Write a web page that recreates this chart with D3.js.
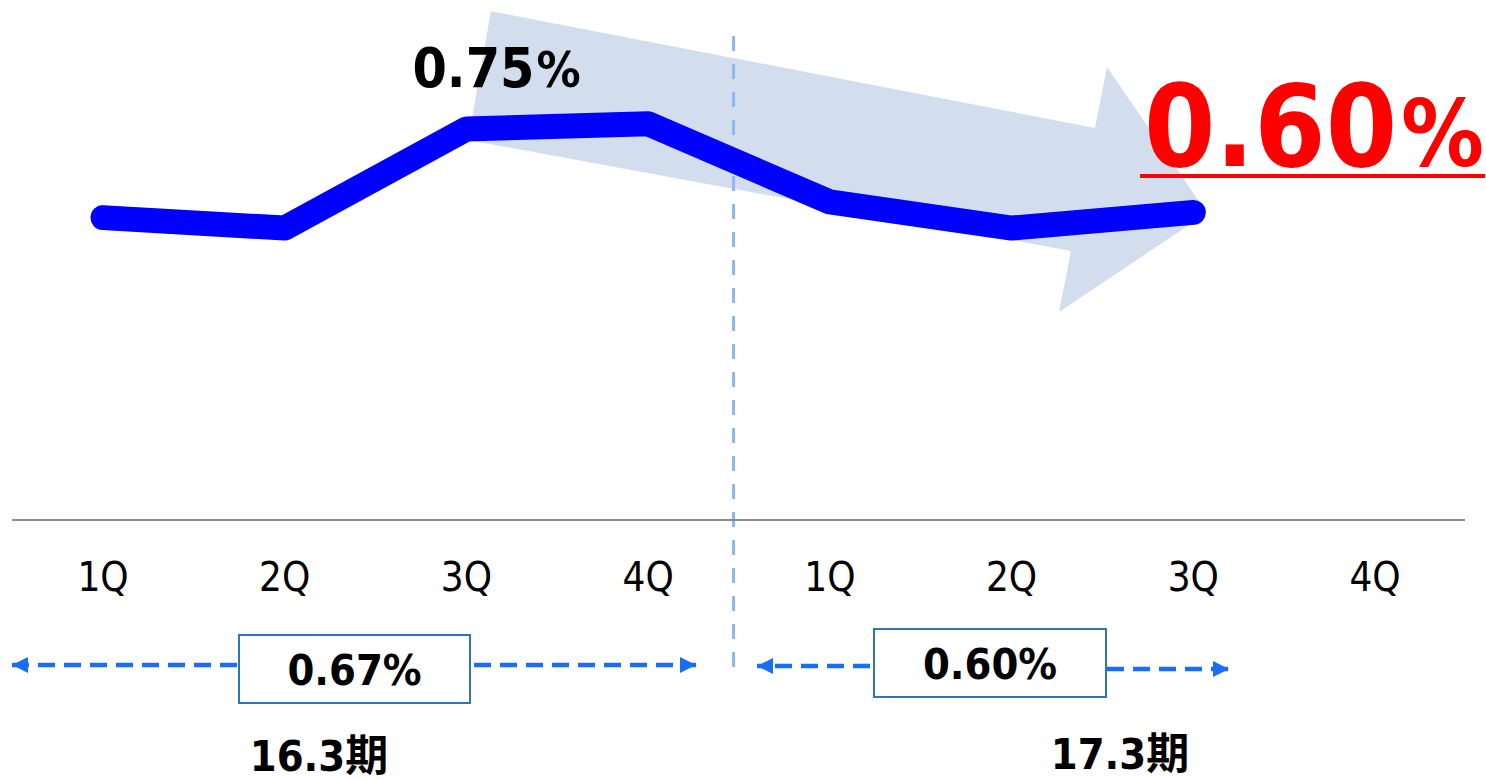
<!DOCTYPE html>
<html>
<head>
<meta charset="utf-8">
<script src="https://cdn.jsdelivr.net/npm/d3@7"></script>
<style>
  body { margin: 0; background: #fff; }
  svg { display: block; }
</style>
</head>
<body>
<div id="chart"></div>
<script>
// quarterly values
var quarters = ['1Q', '2Q', '3Q', '4Q', '1Q', '2Q', '3Q', '4Q'],
    rates = [0.58, 0.56, 0.75, 0.76, 0.61, 0.56, 0.59],
    periods = ['16.3期', '17.3期'],
    periodAvg = ['0.67%', '0.60%'],
    peakLabel = '0.75',
    latestLabel = '0.60'

// trend arrow outline, in (quarter index, rate) units
var trendArrow = [[2.135, 0.976], [5.459, 0.752], [5.525, 0.869], [6.076, 0.589],
                  [5.261, 0.399], [5.327, 0.516], [2.009, 0.729]]

var width = 1486, height = 780,
    font = '"DejaVu Sans Condensed", "DejaVu Sans", "Noto Sans CJK JP", sans-serif',
    colors = {
        line: '#0000ff',
        arrow: '#d2deee',
        axis: '#8c8c8c',
        divider: '#8fb8f2',
        span: '#1a6ef5',
        box: '#2e75b6',
        red: '#ff0000'
    }

var x = d3.scaleLinear().domain([0, quarters.length - 1]).range([103, 1375]),
    y = d3.scaleLinear().domain([0, 0.75]).range([520, 129])

var vis = d3.select('#chart').append('svg')
    .attr('width', width)
    .attr('height', height)
    .attr('viewBox', '0 0 ' + width + ' ' + height)

var defs = vis.append('defs')
defs.append('marker')
    .attr('id', 'tip')
    .attr('viewBox', '0 0 10 10')
    .attr('refX', 10).attr('refY', 5)
    .attr('markerUnits', 'userSpaceOnUse')
    .attr('markerWidth', 18).attr('markerHeight', 16)
    .attr('orient', 'auto')
  .append('path')
    .attr('d', 'M0,0L10,5L0,10Z')
    .attr('fill', colors.span)

// big trend arrow behind the line
vis.append('path')
    .datum(trendArrow)
    .attr('d', d3.line().x(function(d) { return x(d[0]) }).y(function(d) { return y(d[1]) }).curve(d3.curveLinearClosed))
    .attr('fill', colors.arrow)

// divider between fiscal years
var divX = x(3.47)
vis.append('line')
    .attr('x1', divX).attr('x2', divX)
    .attr('y1', 36).attr('y2', 668)
    .attr('stroke', colors.divider)
    .attr('stroke-width', 3)
    .attr('stroke-dasharray', '15 13')

// baseline
vis.append('line')
    .attr('x1', 12).attr('x2', 1465)
    .attr('y1', y(0)).attr('y2', y(0))
    .attr('stroke', colors.axis)
    .attr('stroke-width', 2)

// rate line
vis.append('path')
    .datum(rates)
    .attr('d', d3.line().x(function(d, i) { return x(i) }).y(function(d) { return y(d) }))
    .attr('fill', 'none')
    .attr('stroke', colors.line)
    .attr('stroke-width', 25)
    .attr('stroke-linejoin', 'round')
    .attr('stroke-linecap', 'round')

// quarter labels
vis.selectAll('.q')
    .data(quarters)
    .enter().append('text')
    .attr('class', 'q')
    .attr('x', function(d, i) { return x(i) })
    .attr('y', 591)
    .attr('text-anchor', 'middle')
    .attr('font-family', font)
    .attr('font-size', 40)
    .attr('fill', '#000')
    .text(function(d) { return d })

// peak label
var peak = vis.append('text')
    .attr('x', x(2) - 54)
    .attr('y', 87)
    .attr('font-family', font)
    .attr('font-weight', 'bold')
    .attr('fill', '#000')
peak.append('tspan').attr('font-size', 55).text(peakLabel)
peak.append('tspan').attr('font-size', 49).attr('dx', 2).text('%')

// latest big red label
var latest = vis.append('text')
    .attr('x', 1484)
    .attr('y', 166)
    .attr('text-anchor', 'end')
    .attr('font-family', font)
    .attr('font-weight', 'bold')
    .attr('fill', colors.red)
latest.append('tspan').attr('font-size', 114).text(latestLabel)
latest.append('tspan').attr('font-size', 92).attr('dx', 4).text('%')

vis.append('line')
    .attr('x1', 1140).attr('x2', 1485)
    .attr('y1', 176).attr('y2', 176)
    .attr('stroke', colors.red)
    .attr('stroke-width', 4)

// period spans with averages
var spans = [
    {box: [239, 635, 231, 68], left: [237, 12, 665], right: [474, 696, 665], label: [319, 771]},
    {box: [874, 629, 232, 68], left: [870, 757, 666], right: [1107, 1229, 669], label: [1120, 769]}
]

spans.forEach(function(s, i) {
    [s.left, s.right].forEach(function(a) {
        vis.append('line')
            .attr('x1', a[0]).attr('x2', a[1])
            .attr('y1', a[2]).attr('y2', a[2])
            .attr('stroke', colors.span)
            .attr('stroke-width', 4.5)
            .attr('stroke-dasharray', '17 9')
            .attr('marker-end', 'url(#tip)')
    })
    vis.append('rect')
        .attr('x', s.box[0]).attr('y', s.box[1])
        .attr('width', s.box[2]).attr('height', s.box[3])
        .attr('fill', '#fff')
        .attr('stroke', colors.box)
        .attr('stroke-width', 2)
    vis.append('text')
        .attr('x', s.box[0] + s.box[2] / 2)
        .attr('y', s.box[1] + 50)
        .attr('text-anchor', 'middle')
        .attr('font-family', font)
        .attr('font-weight', 'bold')
        .attr('font-size', 43)
        .text(periodAvg[i])
    vis.append('text')
        .attr('x', s.label[0])
        .attr('y', s.label[1])
        .attr('text-anchor', 'middle')
        .attr('font-family', font)
        .attr('font-weight', 'bold')
        .attr('font-size', 43)
        .text(periods[i])
})
</script>
</body>
</html>
